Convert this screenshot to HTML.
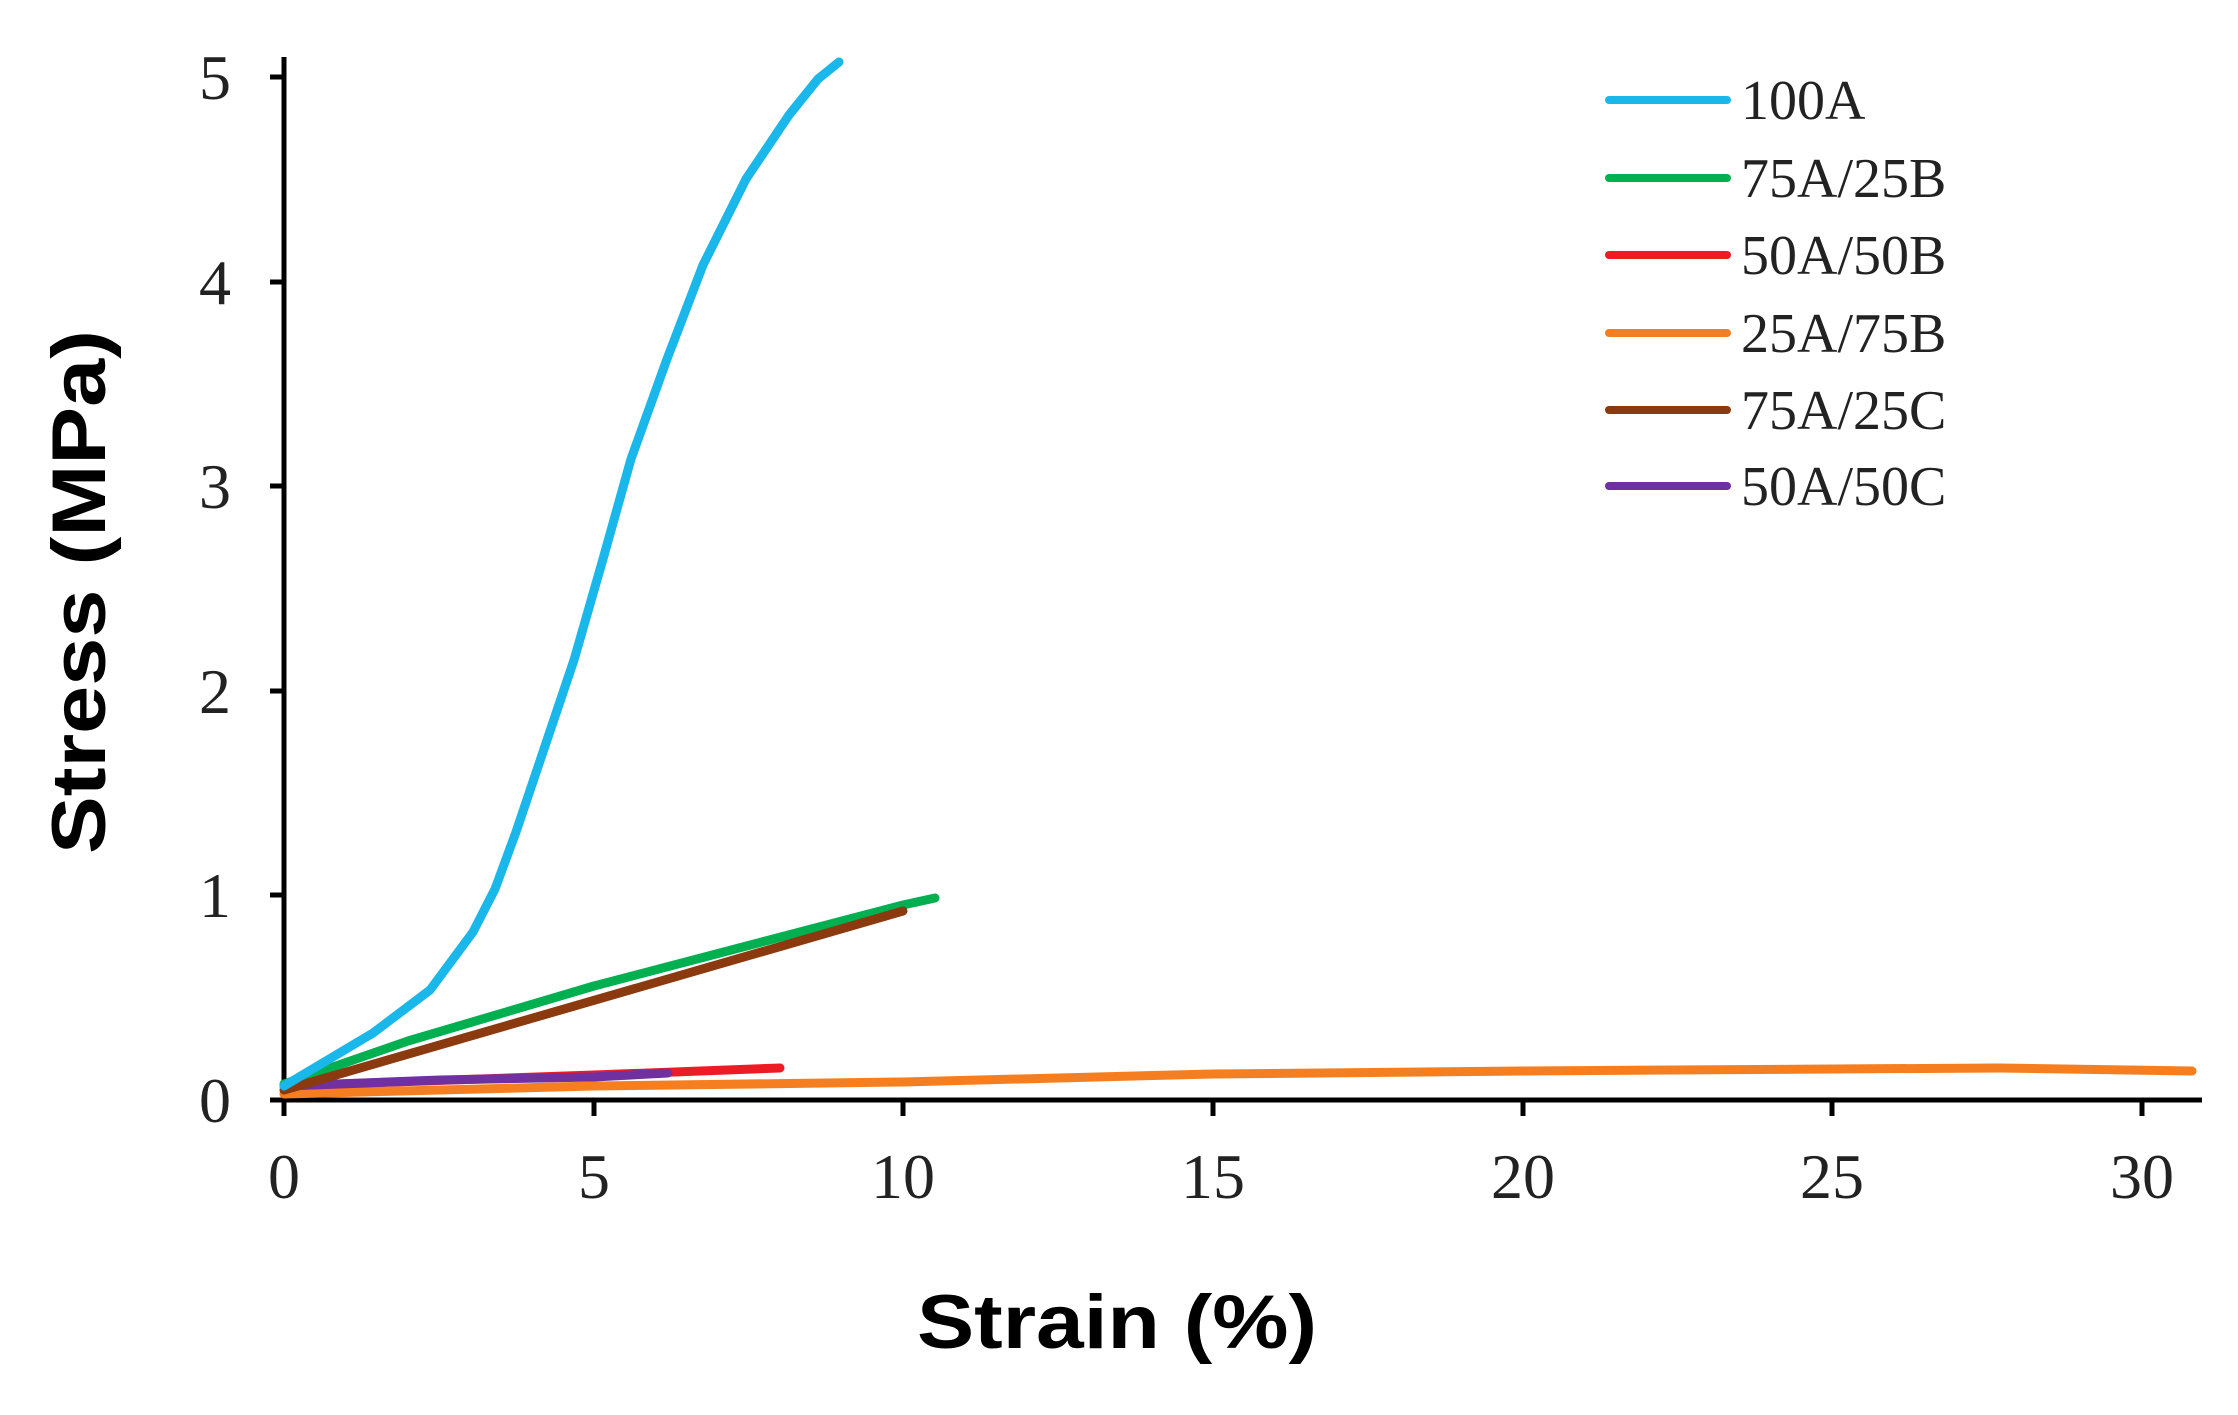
<!DOCTYPE html>
<html><head><style>body{margin:0;background:#fff}svg{display:block}</style></head><body>
<svg width="2238" height="1415" viewBox="0 0 2238 1415" xmlns="http://www.w3.org/2000/svg">
<g stroke="#000" stroke-width="5" fill="none">
<line x1="284" y1="57" x2="284" y2="1102"/>
<line x1="282" y1="1100" x2="2202" y2="1100"/>
<line x1="270" y1="1100" x2="284" y2="1100"/>
<line x1="270" y1="895" x2="284" y2="895"/>
<line x1="270" y1="691" x2="284" y2="691"/>
<line x1="270" y1="486" x2="284" y2="486"/>
<line x1="270" y1="282" x2="284" y2="282"/>
<line x1="270" y1="77" x2="284" y2="77"/>
<line x1="284" y1="1100" x2="284" y2="1116"/>
<line x1="594" y1="1100" x2="594" y2="1116"/>
<line x1="903" y1="1100" x2="903" y2="1116"/>
<line x1="1213" y1="1100" x2="1213" y2="1116"/>
<line x1="1523" y1="1100" x2="1523" y2="1116"/>
<line x1="1832" y1="1100" x2="1832" y2="1116"/>
<line x1="2142" y1="1100" x2="2142" y2="1116"/>
</g>
<g font-family="Liberation Serif, serif" font-size="64" fill="#222" text-anchor="middle">
<text x="215" y="1122">0</text><text x="215" y="917">1</text><text x="215" y="713">2</text>
<text x="215" y="508">3</text><text x="215" y="304">4</text><text x="215" y="99">5</text>
<text x="284" y="1198">0</text><text x="594" y="1198">5</text><text x="903" y="1198">10</text>
<text x="1213" y="1198">15</text><text x="1523" y="1198">20</text><text x="1832" y="1198">25</text><text x="2142" y="1198">30</text>
</g>
<text x="1117" y="1348" font-family="Liberation Sans, sans-serif" font-weight="bold" font-size="76" text-anchor="middle" textLength="400" lengthAdjust="spacingAndGlyphs">Strain (%)</text>
<text transform="translate(105,592) rotate(-90)" font-family="Liberation Sans, sans-serif" font-weight="bold" font-size="76" text-anchor="middle" textLength="524" lengthAdjust="spacingAndGlyphs">Stress (MPa)</text>
<g fill="none" stroke-width="9" stroke-linecap="round" stroke-linejoin="round">
<polyline stroke="#f57f20" points="284,1094 594,1086 903,1082 1213,1074 1523,1071 1832,1069 2000,1068 2192,1071"/>
<polyline stroke="#ed1c24" points="284,1086 594,1075 780,1068"/>
<polyline stroke="#7030a0" points="284,1086 440,1080 594,1077 668,1073"/>
<polyline stroke="#00b050" points="284,1084 408,1041 594,986 903,905 935,898"/>
<polyline stroke="#8b3a0f" points="284,1090 903,911"/>
<polyline stroke="#1ab7ea" points="284,1086 373,1033 430,990 473,932 495,889 516,832 545,746 574,660 603,559 631,459 667,359 703,265 746,179 789,115 818,79 839,62"/>
</g>
<g stroke-width="8" stroke-linecap="round">
<line x1="1609" y1="100" x2="1727" y2="100" stroke="#1ab7ea"/>
<line x1="1609" y1="178" x2="1727" y2="178" stroke="#00b050"/>
<line x1="1609" y1="255" x2="1727" y2="255" stroke="#ed1c24"/>
<line x1="1609" y1="333" x2="1727" y2="333" stroke="#f57f20"/>
<line x1="1609" y1="410" x2="1727" y2="410" stroke="#8b3a0f"/>
<line x1="1609" y1="486" x2="1727" y2="486" stroke="#7030a0"/>
</g>
<g font-family="Liberation Serif, serif" font-size="56" fill="#222">
<text x="1741" y="119">100A</text><text x="1741" y="197">75A/25B</text><text x="1741" y="274">50A/50B</text>
<text x="1741" y="352">25A/75B</text><text x="1741" y="429">75A/25C</text><text x="1741" y="505">50A/50C</text>
</g>
</svg>
</body></html>
